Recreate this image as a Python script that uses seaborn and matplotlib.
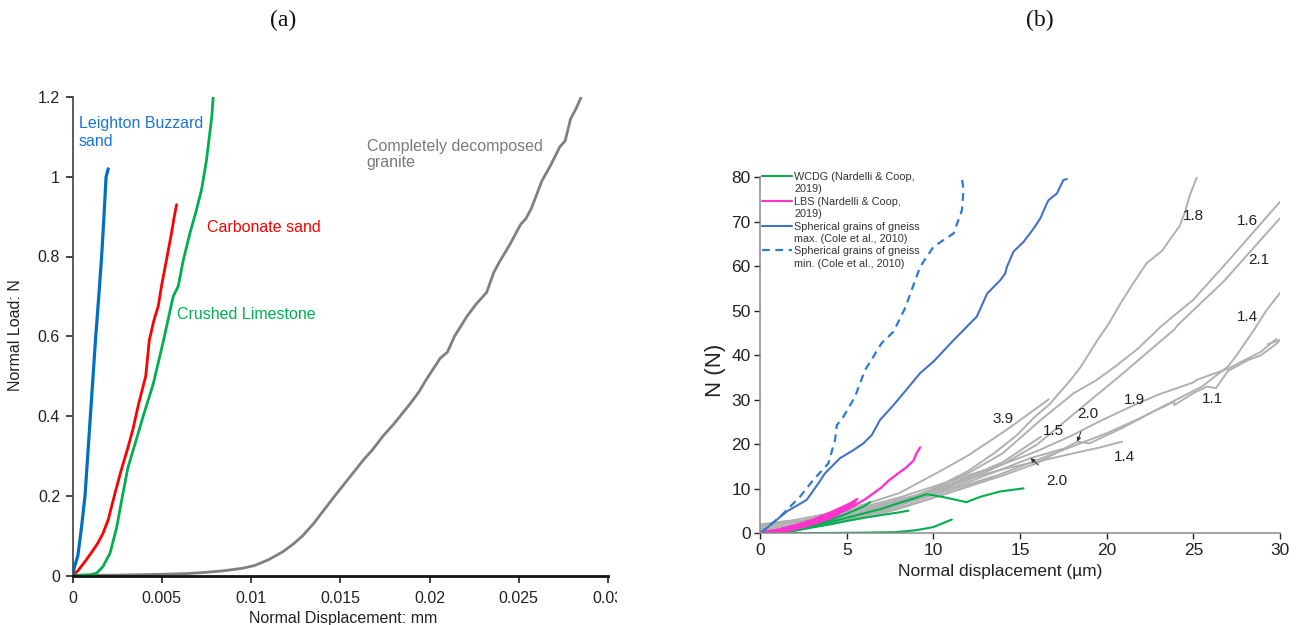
import numpy as np
import pandas as pd
import matplotlib
matplotlib.use("Agg")
import matplotlib.pyplot as plt
from matplotlib.lines import Line2D
from matplotlib.transforms import Bbox
import seaborn as sns

# ---------------- (a) single-contact normal load tests ----------------
lbs_a_x = [0, 0.0001, 0.0003, 0.0005, 0.0007, 0.00085, 0.001, 0.00115, 0.0013, 0.00147, 0.00163, 0.00176, 0.00188, 0.002]
lbs_a_y = [0, 0.02, 0.05, 0.12, 0.2, 0.3, 0.4, 0.5, 0.6, 0.7, 0.8, 0.9, 1.0, 1.02]

carb_x = [0, 0.0003, 0.0007, 0.0011, 0.0014, 0.0017, 0.002, 0.0022, 0.0024, 0.0027, 0.0031, 0.0034,
          0.0037, 0.0041, 0.0043, 0.00456, 0.0048, 0.005, 0.0053, 0.00555, 0.0057, 0.00583]
carb_y = [0, 0.012, 0.035, 0.06, 0.08, 0.105, 0.14, 0.175, 0.21, 0.26, 0.32, 0.37,
          0.43, 0.5, 0.59, 0.64, 0.675, 0.73, 0.8, 0.86, 0.9, 0.93]

lime_x = [0, 0.0005, 0.001, 0.00135, 0.0017, 0.0021, 0.00247, 0.0028, 0.0031, 0.0034, 0.0037, 0.00396,
          0.00452, 0.0051, 0.00564, 0.00592, 0.0062, 0.00658, 0.0069, 0.00723, 0.0075, 0.0076, 0.0078, 0.00788]
lime_y = [0, 0.001, 0.002, 0.006, 0.022, 0.056, 0.12, 0.2, 0.27, 0.315, 0.36, 0.4,
          0.48, 0.59, 0.70, 0.725, 0.79, 0.859, 0.91, 0.968, 1.04, 1.077, 1.15, 1.2]

cdg_x = [0, 0.0025, 0.005, 0.0065, 0.0075, 0.0085, 0.0095, 0.0102, 0.011, 0.0118, 0.0124, 0.0129,
         0.0135, 0.0141, 0.0147, 0.0155, 0.0163, 0.0168, 0.0174, 0.018, 0.0189, 0.0194, 0.0198, 0.0206,
         0.021, 0.0214, 0.0221, 0.0226, 0.0232, 0.0236, 0.0239, 0.0245, 0.0251, 0.0254, 0.0257,
         0.0263, 0.0268, 0.0273, 0.0276, 0.0279, 0.0282, 0.0285]
cdg_y = [0, 0.001, 0.003, 0.005, 0.008, 0.012, 0.018, 0.025, 0.04, 0.06, 0.08, 0.1,
         0.13, 0.165, 0.2, 0.245, 0.29, 0.315, 0.35, 0.38, 0.43, 0.46, 0.49, 0.545,
         0.56, 0.6, 0.65, 0.68, 0.71, 0.76, 0.785, 0.83, 0.88, 0.895, 0.92,
         0.99, 1.03, 1.075, 1.09, 1.145, 1.17, 1.2]

a_xticks = [0, 0.005, 0.01, 0.015, 0.02, 0.025, 0.03]
a_xticklabels = ["0", "0.005", "0.01", "0.015", "0.02", "0.025", "0.03"]
a_yticks = [0, 0.2, 0.4, 0.6, 0.8, 1.0, 1.2]
a_yticklabels = ["0", "0.2", "0.4", "0.6", "0.8", "1", "1.2"]

# ---------------- (b) comparison with literature ----------------
cole_max_x = [0, 1.53, 2.68, 3.35, 3.74, 4.61, 5.38, 5.95, 6.44, 6.92, 7.69, 8.27, 9.23, 10.0, 11.16,
              12.5, 13.1, 13.86, 14.14, 14.24, 14.62, 15.2, 15.78, 16.17, 16.55, 16.65, 17.13, 17.5, 17.7]
cole_max_y = [0, 4.9, 7.5, 11.2, 13.5, 16.9, 18.7, 20.2, 22.1, 25.5, 28.8, 31.5, 36.0, 38.6, 43.4,
              48.7, 53.9, 56.9, 58.4, 59.9, 63.3, 65.5, 68.5, 70.8, 74.2, 74.9, 76.4, 79.4, 79.6]

cole_min_x = [0, 1.14, 2.29, 3.06, 3.93, 4.32, 4.42, 4.8, 5.47, 6.05, 6.53, 7.0, 7.69, 8.36, 9.23,
              10.0, 11.16, 11.64, 11.73, 11.64]
cole_min_y = [0, 3.7, 8.2, 12.0, 15.7, 21.0, 24.3, 26.2, 30.7, 36.7, 39.7, 42.7, 45.3, 50.6, 59.9,
              64.4, 67.4, 72.6, 77.1, 80.0]

lbs1_x = [0, 1, 2, 3, 4, 5, 6, 7, 7.4, 7.9, 8.4, 8.84, 9.0, 9.23]
lbs1_y = [0, 0.3, 1.2, 2.3, 3.7, 5.3, 7.5, 10.3, 11.8, 13.3, 14.7, 16.3, 17.8, 19.3]
lbs2_x = [0, 1, 2, 3, 4, 5, 5.5]
lbs2_y = [0, 0.4, 1.3, 2.5, 4.0, 5.8, 7.0]
lbs3_x = [0, 1, 2, 3, 4, 5.2]
lbs3_y = [0.2, 0.8, 1.8, 3.0, 4.6, 6.7]
lbs4_x = [0, 1, 2, 3, 4, 4.6]
lbs4_y = [0, 0.2, 0.9, 2.0, 3.3, 4.5]
lbs5_x = [0, 1, 2, 3, 4, 5, 5.6]
lbs5_y = [0, 0.5, 1.6, 2.9, 4.4, 6.3, 7.7]

wcdg1_x = [0, 1, 2, 3, 4, 5, 6, 6.34]
wcdg1_y = [0, 0.1, 0.7, 1.7, 2.9, 4.4, 6.1, 7.0]
wcdg2_x = [0, 1, 2, 3, 4, 5, 6, 7, 8, 8.56]
wcdg2_y = [0, 0.1, 0.6, 1.3, 2.0, 2.8, 3.5, 4.1, 4.7, 5.1]
wcdg3_x = [0, 1, 2, 3, 4, 5, 6, 7, 8, 9, 9.6, 10.5, 11.9, 12.7, 13.85, 15.2]
wcdg3_y = [0, 0.1, 0.6, 1.5, 2.5, 3.5, 4.5, 5.5, 6.8, 8.0, 8.8, 8.2, 7.0, 8.2, 9.4, 10.1]
wcdg4_x = [0, 3, 5.9, 7.8, 9.0, 10.0, 11.06]
wcdg4_y = [0, 0.05, 0.15, 0.25, 0.7, 1.4, 3.1]

g18_x = [0, 2, 4, 6, 8, 10, 12, 13.5, 14.8, 15.8, 16.7, 17.9, 18.5, 19.4, 20.1, 20.8, 21.5, 22.3, 23.2, 23.7, 24.2, 24.5, 24.8, 25.2]
g18_y = [0, 1, 2.5, 4.5, 7, 10, 14, 18, 22, 26, 29, 34.4, 37.4, 43, 47, 51.7, 56, 60.7, 63.5, 66.3, 69, 72, 76, 80]
g16_x = [0, 2, 4, 6, 8, 10, 12, 14, 16.2, 18.1, 19.4, 20.6, 21.8, 22.9, 23.1, 25.0, 27.1, 27.3, 30.0]
g16_y = [0.5, 1.5, 3, 5, 7, 10, 13.5, 18, 25.5, 31.5, 34.4, 37.8, 41.5, 45.6, 46.4, 52.5, 61.6, 62.5, 74.5]
g21_x = [0, 2, 4, 6, 8, 10, 12, 14, 16, 18, 20.8, 23.9, 24.1, 26.8, 27.0, 30.0]
g21_y = [1, 2, 3.5, 5.5, 7.5, 9.5, 12, 15.5, 20, 26.5, 35.5, 45.8, 46.8, 56.8, 57.7, 70.8]
g14u_x = [0, 2, 4, 6, 8, 10, 12, 14, 16, 18, 20, 22, 24, 25.5, 27, 27.5, 28.5, 29.2, 30]
g14u_y = [0, 0.8, 2, 3.5, 5.5, 8, 10.5, 13.5, 16.5, 19.5, 22.5, 26, 30, 33, 37.5, 40, 45.7, 50, 54]
g19_x = [0, 2, 4, 6, 8, 10, 12, 14, 16, 18, 19.5, 21.4, 23, 25, 25.2, 27, 28.9, 29.8]
g19_y = [1.5, 2.5, 4, 6, 8, 10.5, 13, 15.5, 18.5, 22, 25, 28.5, 31.2, 33.9, 34.5, 37, 40.8, 43.7]
g11_x = [0, 2, 4, 6, 8, 10, 12, 14, 16, 18.3, 19.0, 20.8, 21.4, 22.5, 23.9, 23.9, 25.0, 25.8, 26.3, 27.0, 28.2, 28.9, 29.8, 30.0, 29.3]
g11_y = [0.5, 1.2, 2.5, 4, 5.8, 8, 10.5, 13, 15.8, 20.6, 20.2, 23.5, 24.7, 27, 29.6, 28.8, 31.5, 33, 32.6, 36.5, 39, 40, 42.6, 43.5, 42.5]
g14l_x = [0, 2, 4, 6, 8, 10.4, 12, 14.2, 16.2, 18.1, 19.5, 20.9]
g14l_y = [1.5, 2.5, 4, 5.5, 7.5, 10, 12.2, 14.6, 16.3, 18, 19.2, 20.6]
g39_x = [0, 2, 4, 6, 8, 10.4, 12, 14.2, 16.65]
g39_y = [2, 3, 4.5, 6.5, 9, 14, 17.5, 23.2, 30.1]
g15_x = [0, 2, 4, 6, 8, 10, 12, 14, 16.2]
g15_y = [0, 1, 2.5, 4.5, 7, 9.5, 12.5, 16, 21.7]
g20_x = [0, 2, 4, 6, 8, 10, 12, 14, 15.6, 17.5]
g20_y = [0, 1, 2.5, 4.5, 6.5, 9, 11.5, 14.5, 16.9, 19.0]
g_a_x = [0, 3, 6, 9, 11]
g_a_y = [1.8, 3, 5.5, 8.5, 10.5]
g_b_x = [0, 3, 6, 9.5, 12, 13.5]
g_b_y = [0, 1.5, 4, 8, 11, 12.8]
g_c_x = [0, 2, 4, 6, 8, 10, 12, 13.8]
g_c_y = [1.0, 1.8, 3.2, 5.0, 7.2, 9.8, 12.6, 15.6]

b_xticks = [0, 5, 10, 15, 20, 25, 30]
b_yticks = [0, 10, 20, 30, 40, 50, 60, 70, 80]

# label text and its (x, y) position in data units
ratio_labels = ["1.8", "1.6", "2.1", "1.4", "3.9", "1.5", "1.9", "1.1", "1.4"]
ratio_x = [25.0, 28.1, 28.8, 28.1, 14.0, 16.9, 21.6, 26.1, 21.0]
ratio_y = [71.2, 70.1, 61.4, 48.7, 25.7, 23.0, 30.0, 30.1, 17.2]
arrow_labels = ["2.0", "2.0"]
arrow_text_x = [18.9, 17.1]
arrow_text_y = [26.9, 11.8]
arrow_tip_x = [18.3, 15.6]
arrow_tip_y = [20.6, 16.9]

legend_labels = ["WCDG (Nardelli & Coop,\n2019)", "LBS (Nardelli & Coop,\n2019)",
                 "Spherical grains of gneiss\nmax. (Cole et al., 2010)",
                 "Spherical grains of gneiss\nmin. (Cole et al., 2010)"]

# ---------------- styling ----------------
sns.set_theme(style="ticks")
plt.rcParams["font.family"] = ["Liberation Sans", "DejaVu Sans"]

C_BLUE_A = "#0070C0"
C_RED = "#FF0000"
C_GREEN = "#00B050"
C_GREY_A = "#808080"
C_GREY_B = "#B0B0B0"
C_PINK = "#FF33CC"
C_BLUE_MAX = "#4472C4"
C_BLUE_MIN = "#2E7BD0"

fig = plt.figure(figsize=(13, 6.25), dpi=100)
ax_a = fig.add_axes([0.0558, 0.0792, 0.4119, 0.7656])
ax_b = fig.add_axes([0.5848, 0.1467, 0.3998, 0.5696])


def curve(ax, xs, ys, color, lw, **kw):
    sns.lineplot(x=xs, y=ys, sort=False, estimator=None, color=color,
                 linewidth=lw, ax=ax, legend=False, **kw)


# ---- panel (a)
curve(ax_a, cdg_x, cdg_y, C_GREY_A, 2.0)
curve(ax_a, lime_x, lime_y, C_GREEN, 2.0)
curve(ax_a, carb_x, carb_y, C_RED, 2.0)
curve(ax_a, lbs_a_x, lbs_a_y, C_BLUE_A, 2.3)

ax_a.set_xlim(0, 0.03)
ax_a.set_ylim(0, 1.2)
ax_a.set_xticks(a_xticks)
ax_a.set_xticklabels(a_xticklabels)
ax_a.set_yticks(a_yticks)
ax_a.set_yticklabels(a_yticklabels)
ax_a.tick_params(axis="both", labelsize=11.5, colors="#222222", length=5, width=1.2, pad=4)
ax_a.tick_params(axis="x", pad=6)
for s in ["top", "right"]:
    ax_a.spines[s].set_visible(False)
ax_a.spines["left"].set_color("#404040")
ax_a.spines["left"].set_linewidth(1.2)
ax_a.spines["bottom"].set_color("#111111")
ax_a.spines["bottom"].set_linewidth(2.0)
ax_a.set_xlabel("Normal Displacement: mm", fontsize=11.5, color="#222222")
ax_a.set_ylabel("Normal Load: N", fontsize=11.5, color="#222222")
ax_a.xaxis.set_label_coords(0.505, -0.074)
ax_a.yaxis.set_label_coords(-0.092, 0.503)

ax_a.text(0.00036, 1.152, "Leighton Buzzard\nsand", color="#1A75D8", fontsize=11.5,
          ha="left", va="top", linespacing=1.25)
ax_a.text(0.00753, 0.8725, "Carbonate sand", color=C_RED, fontsize=11.5, ha="left", va="center")
ax_a.text(0.00585, 0.654, "Crushed Limestone", color="#00B050", fontsize=11.5, ha="left", va="center")
ax_a.text(0.01649, 1.056, "Completely decomposed\ngranite", color="#7A7A7A", fontsize=11.5,
          ha="left", va="center", linespacing=1.15)

# ---- panel (b)
grey_curves = [(g18_x, g18_y), (g16_x, g16_y), (g21_x, g21_y), (g14u_x, g14u_y),
               (g19_x, g19_y), (g11_x, g11_y), (g14l_x, g14l_y), (g39_x, g39_y),
               (g15_x, g15_y), (g20_x, g20_y), (g_a_x, g_a_y), (g_b_x, g_b_y), (g_c_x, g_c_y)]
for gx, gy in grey_curves:
    curve(ax_b, gx, gy, C_GREY_B, 1.4)

for wx, wy in [(wcdg1_x, wcdg1_y), (wcdg2_x, wcdg2_y), (wcdg3_x, wcdg3_y), (wcdg4_x, wcdg4_y)]:
    curve(ax_b, wx, wy, C_GREEN, 1.5)

for px_, py_ in [(lbs2_x, lbs2_y), (lbs3_x, lbs3_y), (lbs4_x, lbs4_y), (lbs5_x, lbs5_y), (lbs1_x, lbs1_y)]:
    curve(ax_b, px_, py_, C_PINK, 1.7)

curve(ax_b, cole_max_x, cole_max_y, C_BLUE_MAX, 1.5)
curve(ax_b, cole_min_x, cole_min_y, C_BLUE_MIN, 1.6, dashes=False)
ax_b.lines[-1].set_linestyle((0, (3.5, 2.5)))

ax_b.set_xlim(0, 30)
ax_b.set_ylim(0, 80)
ax_b.set_xticks(b_xticks)
ax_b.set_yticks(b_yticks)
ax_b.tick_params(axis="both", labelsize=12.5, colors="#222222", length=4, width=1.0, pad=3)
ax_b.tick_params(axis="x", pad=3)
for s in ["top", "right"]:
    ax_b.spines[s].set_visible(False)
for s in ["left", "bottom"]:
    ax_b.spines[s].set_color("#8A8A8A")
    ax_b.spines[s].set_linewidth(1.1)
for t in ax_b.xaxis.get_ticklines() + ax_b.yaxis.get_ticklines():
    t.set_color("#8A8A8A")
ax_b.set_xlabel("Normal displacement (\u00b5m)", fontsize=12.5, color="#222222")
ax_b.set_ylabel("N (N)", fontsize=16, color="#222222")
ax_b.xaxis.set_label_coords(0.461, -0.085)
ax_b.yaxis.set_label_coords(-0.066, 0.459)

for lab, lx, ly in zip(ratio_labels, ratio_x, ratio_y):
    ax_b.text(lx, ly, lab, fontsize=11, color="#222222", ha="center", va="center")
for lab, tx, ty, hx, hy in zip(arrow_labels, arrow_text_x, arrow_text_y, arrow_tip_x, arrow_tip_y):
    ax_b.annotate(lab, xy=(hx, hy), xytext=(tx, ty), fontsize=11, color="#222222",
                  ha="center", va="center",
                  arrowprops=dict(arrowstyle="-|>", color="#333333", lw=0.7,
                                  mutation_scale=6, shrinkA=6, shrinkB=0))

# two-line legend entries with the handle on the first line
handles, labels = [], []
styles = [dict(color=C_GREEN, lw=1.5), dict(color=C_PINK, lw=1.5),
          dict(color=C_BLUE_MAX, lw=1.5), dict(color=C_BLUE_MIN, lw=1.6, ls=(0, (3.5, 2.5)))]
for st, lab in zip(styles, legend_labels):
    first, second = lab.split("\n")
    handles.append(Line2D([], [], **st))
    labels.append(first)
    handles.append(Line2D([], [], linestyle="none"))
    labels.append(second)
ax_b.legend(handles, labels, loc="upper left", bbox_to_anchor=(0.003, 1.015),
            frameon=False, fontsize=7.8, handlelength=2.8, handletextpad=0.2,
            labelspacing=0.22, borderpad=0, borderaxespad=0,
            labelcolor="#333333")

# panel captions
fig.text(283 / 1300, 1 - 20 / 625, "(a)", fontsize=17, ha="center", va="center",
         family=["Liberation Serif", "DejaVu Serif"], color="#111111")
fig.text(1040 / 1300, 1 - 20 / 625, "(b)", fontsize=17, ha="center", va="center",
         family=["Liberation Serif", "DejaVu Serif"], color="#111111")

# the last tick label of panel (a) runs into the panel edge
fig.canvas.draw()
edge = Bbox.from_extents(0, 0, 617, 625)
for lbl in ax_a.get_xticklabels():
    lbl.set_clip_on(True)
    lbl.set_clip_box(edge)

fig.savefig("out.png", dpi=100)
